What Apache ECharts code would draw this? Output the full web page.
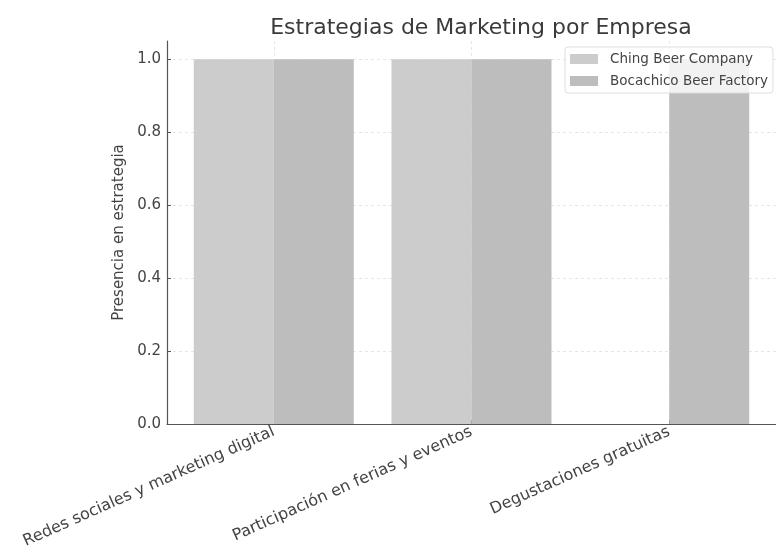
<!DOCTYPE html>
<html>
<head>
<meta charset="utf-8">
<script src="https://cdn.jsdelivr.net/npm/echarts@6/dist/echarts.min.js"></script>
<style>html,body{margin:0;padding:0;background:#fff;}#c{width:776px;height:559px;}</style>
</head>
<body>
<div id="c"></div>
<script>
const categories = ['Redes sociales y marketing digital', 'Participación en ferias y eventos', 'Degustaciones gratuitas'];
const seriesNames = ['Ching Beer Company', 'Bocachico Beer Factory'];
const chingValues = [1, 1, 0];
const bocachicoValues = [1, 1, 1];
const yTicks = [0, 0.2, 0.4, 0.6, 0.8, 1.0];
const colors = ['#cccccc', '#bdbdbd'];

const catIdx = categories.map((c, i) => i);
const chart = echarts.init(document.getElementById('c'), null, {renderer: 'canvas'});
const font = 'DejaVu Sans';
chart.setOption({
  animation: false,
  backgroundColor: '#ffffff',
  title: {
    text: 'Estrategias de Marketing por Empresa',
    left: 476, top: 12, textAlign: 'center',
    textStyle: {fontFamily: font, fontSize: 22, fontWeight: 'normal', color: '#3a3a3a'}
  },
  legend: {
    orient: 'vertical', left: 565, top: 47,
    data: seriesNames,
    itemWidth: 28, itemHeight: 10, itemGap: 6,
    padding: [4, 5, 4, 5],
    borderColor: '#dddddd', borderWidth: 1, borderRadius: 3,
    backgroundColor: 'rgba(255,255,255,0.8)',
    icon: 'rect',
    textStyle: {fontFamily: font, fontSize: 13.5, lineHeight: 16, color: '#444', padding: [0, 0, 0, 7]}
  },
  grid: {left: 167, top: 41, width: 616, height: 383, containLabel: false},
  xAxis: {
    type: 'value', min: -0.54, max: 2.54,
    axisLine: {show: true, onZero: false, lineStyle: {color: '#555', width: 1.2}},
    axisTick: {show: true, inside: true, length: 4, customValues: catIdx, lineStyle: {color: '#555'}},
    axisLabel: {
      customValues: catIdx, rotate: 24, margin: 7,
      formatter: v => categories[Math.round(v)] || '',
      fontFamily: font, fontSize: 16, color: '#444'
    },
    splitLine: {show: true, lineStyle: {color: '#e0e0e0', type: [3, 3], width: 0.8}}
  },
  yAxis: {
    type: 'value', min: 0, max: 1.05,
    name: 'Presencia en estrategia', nameLocation: 'middle', nameGap: 35,
    nameTextStyle: {fontFamily: font, fontSize: 15, color: '#444'},
    axisLine: {show: true, onZero: false, lineStyle: {color: '#555', width: 1.2}},
    axisTick: {show: true, inside: true, length: 4, customValues: yTicks, lineStyle: {color: '#555'}},
    axisLabel: {
      customValues: yTicks, margin: 6,
      formatter: v => v.toFixed(1),
      fontFamily: font, fontSize: 15, color: '#444'
    },
    splitLine: {show: true, lineStyle: {color: '#e0e0e0', type: [3, 3], width: 0.8}}
  },
  series: [
    {name: seriesNames[0], type: 'bar', barWidth: 80, barGap: '0%', itemStyle: {color: colors[0]},
     data: chingValues.map((v, i) => [i, v])},
    {name: seriesNames[1], type: 'bar', barWidth: 80, barGap: '0%', itemStyle: {color: colors[1]},
     data: bocachicoValues.map((v, i) => [i, v])}
  ]
});
</script>
</body>
</html>
